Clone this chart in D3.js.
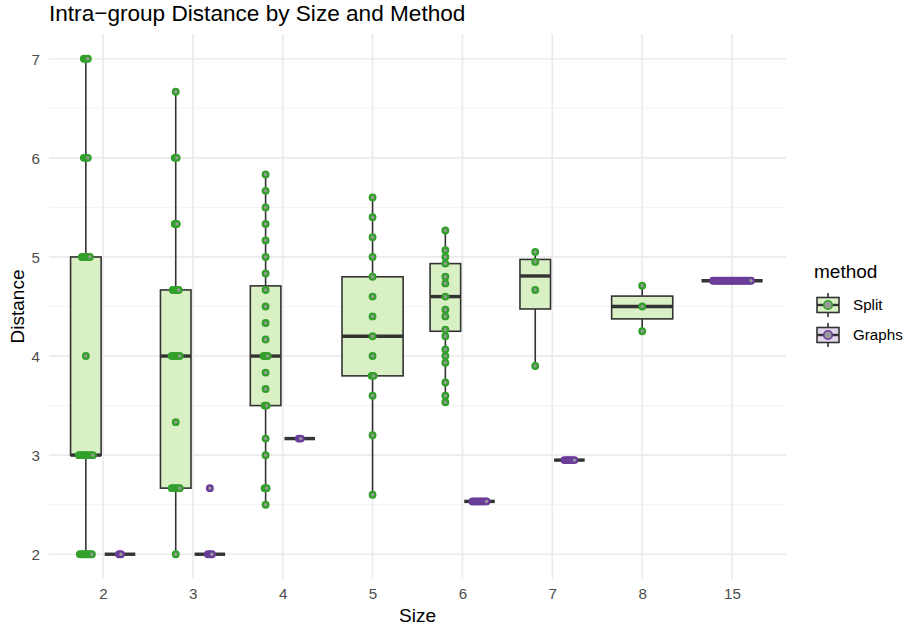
<!DOCTYPE html>
<html>
<head>
<meta charset="utf-8">
<script src="https://cdn.jsdelivr.net/npm/d3@7"></script>
<style>
  html, body { margin: 0; padding: 0; background: #ffffff; }
  svg { display: block; font-family: "Liberation Sans", Arial, Helvetica, sans-serif; }
</style>
</head>
<body>
<svg id="chart" width="906" height="631"></svg>
<script>
// Group sizes on the x axis and the two methods being compared
const sizes = ["2", "3", "4", "5", "6", "7", "8", "15"];
const methods = ["Split", "Graphs"];
const yTicks = [2, 3, 4, 5, 6, 7];

// Box statistics per size: [size, lower whisker, Q1, median, Q3, upper whisker]
const splitBoxes = [
  ["2", 2, 3, 3, 5, 7],
  ["3", 2, 2.667, 4, 4.667, 6.667],
  ["4", 2.5, 3.5, 4, 4.708, 5.833],
  ["5", 2.6, 3.8, 4.2, 4.8, 5.6],
  ["6", 3.533, 4.25, 4.6, 4.933, 5.267],
  ["7", 3.9, 4.475, 4.808, 4.975, 5.05],
  ["8", 4.25, 4.375, 4.5, 4.605, 4.71]
];
const graphsBoxes = [
  ["2", 2, 2, 2, 2, 2],
  ["3", 2, 2, 2, 2, 2],
  ["4", 3.167, 3.167, 3.167, 3.167, 3.167],
  ["6", 2.533, 2.533, 2.533, 2.533, 2.533],
  ["7", 2.95, 2.95, 2.95, 2.95, 2.95],
  ["15", 4.76, 4.76, 4.76, 4.76, 4.76]
];

// Observed distances per size: [value, number of observations]
const splitPoints = {
  "2": [[2, 7], [3, 8], [4, 1], [5, 5], [6, 3], [7, 3]],
  "3": [[2, 1], [2.667, 5], [3.333, 1], [4, 5], [4.667, 4], [5.333, 2], [6, 2], [6.667, 1]],
  "4": [[2.5, 1], [2.667, 2], [3, 1], [3.167, 1], [3.5, 2], [3.667, 1], [3.833, 1], [4, 3],
        [4.167, 1], [4.333, 1], [4.5, 1], [4.667, 1], [4.833, 1], [5, 1], [5.167, 1],
        [5.333, 1], [5.5, 1], [5.667, 1], [5.833, 1]],
  "5": [[2.6, 1], [3.2, 1], [3.6, 1], [3.8, 2], [4, 1], [4.2, 1], [4.4, 1], [4.6, 1],
        [4.8, 1], [5, 1], [5.2, 1], [5.4, 1], [5.6, 1]],
  "6": [[3.533, 1], [3.6, 1], [3.733, 1], [3.933, 1], [4, 1], [4.067, 1], [4.2, 1], [4.267, 1],
        [4.4, 1], [4.467, 1], [4.6, 1], [4.733, 1], [4.8, 1], [4.933, 1], [5, 1], [5.067, 1],
        [5.267, 1]],
  "7": [[3.9, 1], [4.667, 1], [4.95, 1], [5.05, 1]],
  "8": [[4.25, 1], [4.5, 1], [4.71, 1]]
};
const graphsPoints = {
  "2": [[2, 2]],
  "3": [[2, 3], [2.667, 1]],
  "4": [[3.167, 2]],
  "6": [[2.533, 8]],
  "7": [[2.95, 6]],
  "15": [[4.76, 20]]
};

const fills = { Split: "#d9efc4", Graphs: "#e2d6ea" };
const strokes = { Split: "#33a02c", Graphs: "#6a3d9a" };
const boxLine = "#333333";
const pointFill = "#9a9a9a";

const svg = d3.select("#chart");
const panel = { left: 49, right: 786, top: 34, bottom: 579 };

// Discrete x scale with 0.6 band expansion on each side
const x = d3.scalePoint().domain(sizes)
  .range([panel.left, panel.right]).padding(0.6);
const step = x.step();
const y = d3.scaleLinear().domain([1.75, 7.25]).range([panel.bottom, panel.top]);

// Gridlines: major and minor
const g = svg.append("g");
const minorY = d3.range(2.5, 7, 1);
g.selectAll("line.minor").data(minorY).join("line")
  .attr("x1", panel.left).attr("x2", panel.right)
  .attr("y1", d => y(d)).attr("y2", d => y(d))
  .attr("stroke", "#f2f2f2").attr("stroke-width", 0.9);
g.selectAll("line.majorY").data(yTicks).join("line")
  .attr("x1", panel.left).attr("x2", panel.right)
  .attr("y1", d => y(d)).attr("y2", d => y(d))
  .attr("stroke", "#ebebeb").attr("stroke-width", 1.7);
g.selectAll("line.majorX").data(sizes).join("line")
  .attr("x1", d => x(d)).attr("x2", d => x(d))
  .attr("y1", panel.top).attr("y2", panel.bottom)
  .attr("stroke", "#ebebeb").attr("stroke-width", 1.7);

// Axes (labels only, as in a minimal theme)
const yAxis = svg.append("g").attr("transform", `translate(${panel.left - 9},0)`)
  .call(d3.axisLeft(y).tickValues(yTicks).tickSize(0).tickPadding(0).tickFormat(d3.format("d")));
yAxis.select(".domain").remove();
yAxis.selectAll("text").attr("fill", "#4d4d4d").attr("font-size", 15.2).attr("dy", "0.36em")
  .attr("font-family", "Liberation Sans, Arial, sans-serif");

const xAxis = svg.append("g").attr("transform", `translate(0,${panel.bottom + 6})`)
  .call(d3.axisBottom(x).tickSize(0).tickPadding(0));
xAxis.select(".domain").remove();
xAxis.selectAll("text").attr("fill", "#4d4d4d").attr("font-size", 15.2).attr("dy", "0.95em")
  .attr("font-family", "Liberation Sans, Arial, sans-serif");

// Box width and dodge offsets
const fullWidth = 0.68 * step;
const halfWidth = fullWidth / 2;
const hasSplit = new Set(splitBoxes.map(d => d[0]));
const hasGraphs = new Set(graphsBoxes.map(d => d[0]));
function centerOf(size, method) {
  const both = hasSplit.has(size) && hasGraphs.has(size);
  if (!both) return { cx: x(size), w: fullWidth };
  const off = 0.19 * step;
  return { cx: x(size) + (method === "Split" ? -off : off), w: halfWidth };
}

function drawBoxes(rows, method) {
  const grp = svg.append("g");
  rows.forEach(([size, lo, q1, med, q3, hi]) => {
    const { cx, w } = centerOf(size, method);
    grp.append("line").attr("x1", cx).attr("x2", cx).attr("y1", y(q3)).attr("y2", y(hi))
      .attr("stroke", boxLine).attr("stroke-width", 1.6);
    grp.append("line").attr("x1", cx).attr("x2", cx).attr("y1", y(q1)).attr("y2", y(lo))
      .attr("stroke", boxLine).attr("stroke-width", 1.6);
    grp.append("rect").attr("x", cx - w / 2).attr("width", w)
      .attr("y", y(q3)).attr("height", Math.max(0, y(q1) - y(q3)))
      .attr("fill", fills[method]).attr("stroke", boxLine).attr("stroke-width", 1.6);
    grp.append("line").attr("x1", cx - w / 2).attr("x2", cx + w / 2)
      .attr("y1", y(med)).attr("y2", y(med))
      .attr("stroke", boxLine).attr("stroke-width", 3.4);
  });
}

function drawPoints(pointMap, method) {
  const grp = svg.append("g");
  Object.entries(pointMap).forEach(([size, vals]) => {
    const { cx } = centerOf(size, method);
    vals.forEach(([v, n]) => {
      // Repeated observations are spread side by side around the box centre
      const spacing = 2;
      for (let i = 0; i < n; i++) {
        const dx = (i - (n - 1) / 2) * spacing;
        grp.append("circle").attr("cx", cx + dx).attr("cy", y(v)).attr("r", 2.8)
          .attr("fill", pointFill).attr("stroke", strokes[method]).attr("stroke-width", 2.3);
      }
    });
  });
}

drawBoxes(splitBoxes, "Split");
drawBoxes(graphsBoxes, "Graphs");
drawPoints(splitPoints, "Split");
drawPoints(graphsPoints, "Graphs");

// Titles
svg.append("text").attr("x", panel.left).attr("y", 21)
  .attr("font-size", 22.6).attr("fill", "#000").text("Intra\u2212group Distance by Size and Method");
svg.append("text").attr("x", (panel.left + panel.right) / 2).attr("y", 622)
  .attr("text-anchor", "middle").attr("font-size", 19).attr("fill", "#000").text("Size");
svg.append("text").attr("transform", `translate(24,${(panel.top + panel.bottom) / 2}) rotate(-90)`)
  .attr("text-anchor", "middle").attr("font-size", 19).attr("fill", "#000").text("Distance");

// Legend
const leg = svg.append("g").attr("transform", "translate(814,0)");
leg.append("text").attr("x", 0).attr("y", 278).attr("font-size", 19).attr("fill", "#000").text("method");
methods.forEach((m, i) => {
  const cy = 305 + i * 30;
  const kx = 14;
  const k = leg.append("g");
  k.append("line").attr("x1", kx).attr("x2", kx).attr("y1", cy - 12).attr("y2", cy + 12)
    .attr("stroke", boxLine).attr("stroke-width", 1.6);
  k.append("rect").attr("x", kx - 11).attr("y", cy - 7.5).attr("width", 22).attr("height", 15)
    .attr("fill", fills[m]).attr("stroke", boxLine).attr("stroke-width", 1.6);
  k.append("line").attr("x1", kx - 11).attr("x2", kx + 11).attr("y1", cy).attr("y2", cy)
    .attr("stroke", boxLine).attr("stroke-width", 2.4);
  k.append("circle").attr("cx", kx).attr("cy", cy).attr("r", 4.3)
    .attr("fill", pointFill).attr("stroke", strokes[m]).attr("stroke-width", 1.6);
  leg.append("text").attr("x", 39).attr("y", cy).attr("dy", "0.36em")
    .attr("font-size", 15.2).attr("fill", "#000").text(m);
});
</script>
</body>
</html>
